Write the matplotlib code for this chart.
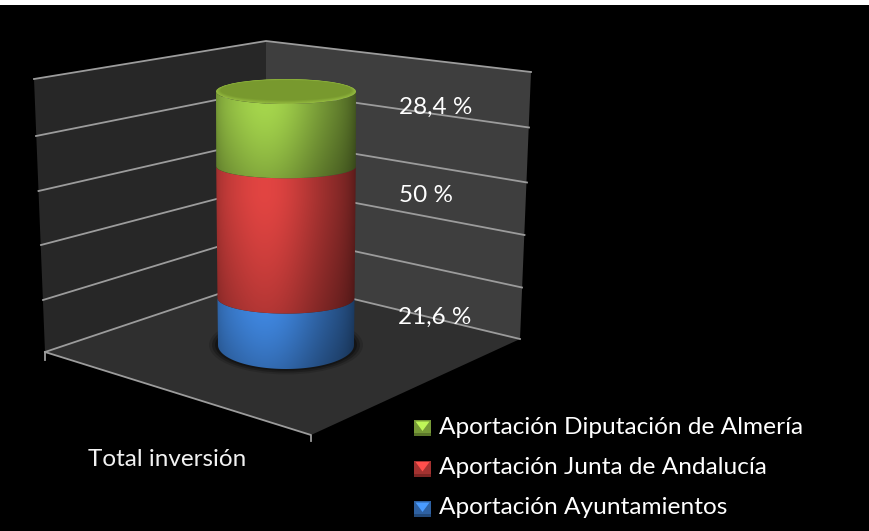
import numpy as np
import matplotlib
matplotlib.use("Agg")
import matplotlib.pyplot as plt
from matplotlib.patches import Polygon, Ellipse, Rectangle, PathPatch
from matplotlib.path import Path

# ---- data ----
series = ["Aportación Ayuntamientos", "Aportación Junta de Andalucía", "Aportación Diputación de Almería"]
values = [21.6, 50.0, 28.4]
value_labels = ["21,6 %", "50 %", "28,4 %"]
category = "Total inversión"
axis_ticks = [0, 20, 40, 60, 80, 100]

# ---- styles / projected layout (pixels) ----
base_colors = [(0.25, 0.53, 0.88), (0.89, 0.27, 0.26), (0.65, 0.84, 0.30)]
label_pos = [(398, 317), (399, 195), (399, 107)]
legend_y = [509, 468.5, 428]
left_x = [45, 43, 41, 38.5, 36, 34]
left_y = [352, 300, 245, 191, 136, 79]
back_x = [266] * 6
back_y = [278, 232, 186, 139, 90, 41]
right_x = [520, 522, 524.5, 527, 529, 531]
right_y = [339, 287.5, 235, 182.5, 127.5, 72]
cyl_cy = [345, 302, 250, 197, 144, 91.5]
cyl_hw = [68, 68.5, 69, 69.5, 70, 70]
cyl_hh = [24, 16, 13, 12, 12, 12.5]
cyl_cx = 286

fig = plt.figure(figsize=(8.7, 5.31), dpi=100, facecolor="black")
ax = fig.add_axes([0, 0, 1, 1])
ax.set_xlim(0, 870)
ax.set_ylim(531, 0)
ax.axis("off")
ax.add_patch(Rectangle((0, 0), 870, 5, fc="white", ec="none", zorder=10))

# walls and floor
ax.add_patch(Polygon([(left_x[0], left_y[0]), (left_x[-1], left_y[-1]), (back_x[-1], back_y[-1]), (back_x[0], back_y[0])],
                     fc="#272727", ec="none", zorder=1))
ax.add_patch(Polygon([(back_x[0], back_y[0]), (back_x[-1], back_y[-1]), (right_x[-1], right_y[-1]), (right_x[0], right_y[0])],
                     fc="#3e3e3e", ec="none", zorder=1))
front = (311, 435)
ax.add_patch(Polygon([(left_x[0], left_y[0]), (back_x[0], back_y[0]), (right_x[0], right_y[0]), front],
                     fc="#2f2f2f", ec="none", zorder=1))
# gridlines
gc = "#9c9c9c"
for i in range(len(axis_ticks)):
    ax.plot([left_x[i], back_x[i], right_x[i]], [left_y[i], back_y[i], right_y[i]], color=gc, lw=1.3, zorder=2,
            solid_joinstyle="miter")
ax.plot([left_x[0], front[0], front[0]], [left_y[0], front[1], 441], color=gc, lw=1.3, zorder=2)
ax.plot([left_x[0], left_x[0]], [left_y[0], 360], color=gc, lw=1.3, zorder=2)

# cylinder helpers
def cy(v): return np.interp(v, axis_ticks, cyl_cy)
def hw(v): return np.interp(v, axis_ticks, cyl_hw)
def hh(v): return np.interp(v, axis_ticks, cyl_hh)

def front_arc(v, n=80):
    th = np.linspace(np.pi, 0, n)
    return cyl_cx + hw(v) * np.cos(th), cy(v) + hh(v) * np.sin(th)

# contact shadow
for grow, a in [(9, 0.18), (6, 0.3), (3, 0.45)]:
    ax.add_patch(Ellipse((cyl_cx, cy(0)), 2 * (hw(0) + grow), 2 * (hh(0) + grow * 0.6), fc="#0a0a0a", alpha=a, ec="none", zorder=3))

# stacked segments
bottom = 0.0
for val, col in zip(values, base_colors):
    top = bottom + val
    xb, yb = front_arc(bottom)
    xt, yt = front_arc(top)
    verts = np.r_[np.c_[xb, yb], np.c_[xt[::-1], yt[::-1]], [[xb[0], yb[0]]]]
    codes = [Path.MOVETO] + [Path.LINETO] * (len(verts) - 2) + [Path.CLOSEPOLY]
    y0, y1 = yt.min() - 1, yb.max() + 1
    xl, xr = cyl_cx - 72, cyl_cx + 72
    X, Y = np.meshgrid(np.linspace(xl, xr, 200), np.linspace(y0, y1, 120))
    t = (X - (cyl_cx - 70)) / 140.0
    horiz = 0.66 + 0.34 * np.exp(-((t - 0.36) / 0.38) ** 2) - 0.16 * t ** 3
    horiz -= 0.10 * np.exp(-t / 0.04) + 0.12 * np.exp(-(1 - t) / 0.06)
    s = (Y - y0) / (y1 - y0)
    vert = 1.0 - 0.28 * np.clip(s - 0.2, 0, 1) ** 1.3
    shade = np.clip(horiz * vert, 0, 1)
    img = np.dstack([shade * c for c in col])
    im = ax.imshow(img, extent=(xl, xr, y1, y0), zorder=5, interpolation="bilinear", aspect="auto")
    clip = PathPatch(Path(verts, codes), transform=ax.transData, fc="none", ec="none")
    ax.add_patch(clip)
    im.set_clip_path(clip)
    bottom = top

# cap: soft rim fading into the flat top
ctop = bottom
rim = np.array([0.58, 0.73, 0.25])
inner = np.array([0.47, 0.60, 0.18])
steps = 7
for k in range(steps):
    f = k / (steps - 1)
    ax.add_patch(Ellipse((cyl_cx, cy(ctop) - 1.2 * f), 2 * hw(ctop) - 9 * f, 2 * hh(ctop) - 5 * f,
                         fc=rim * (1 - f) + inner * f, ec="none", zorder=6))
ax.set_xlim(0, 870)
ax.set_ylim(531, 0)

# labels
font = ["Lato", "DejaVu Sans"]
for txt, (x, y) in zip(value_labels, label_pos):
    ax.text(x, y, txt, color="white", fontsize=17.5, family=font, ha="left", va="center", zorder=8)
ax.text(167.5, 459, category, color="#f2f2f2", fontsize=17.5, family=font, ha="center", va="center", zorder=8)

# legend
for name, col, y in zip(series, base_colors, legend_y):
    x0, x1, y0, y1 = 414, 431, y - 8, y + 8
    c = np.array(col)
    xm = (x0 + x1) / 2
    ax.add_patch(Rectangle((x0, y0), x1 - x0, y1 - y0, fc=c * 0.72, ec="none", zorder=8))
    ax.add_patch(Rectangle((x0, y1 - 3), x1 - x0, 3, fc=c * 0.55, ec="none", zorder=8))
    ax.add_patch(Polygon([(x0 + 1.5, y0 + 1.5), (x1 - 1.5, y0 + 1.5), (xm, y0 + 11)], fc=np.clip(c * 1.15, 0, 1), ec="none", zorder=8))
    ax.text(439, y - 1, name, color="white", fontsize=17.6, family=font, ha="left", va="center", zorder=8)

fig.savefig("out.png", dpi=100, facecolor="black")
